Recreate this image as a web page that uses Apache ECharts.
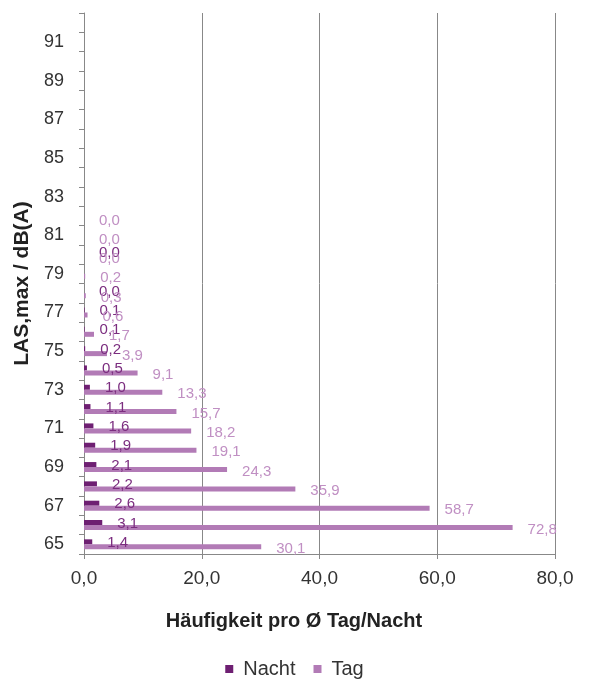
<!DOCTYPE html>
<html><head><meta charset="utf-8">
<script src="https://cdn.jsdelivr.net/npm/echarts@6/dist/echarts.min.js"></script>
<style>html,body{margin:0;padding:0;background:#fff}#c{width:589px;height:680px}</style>
</head><body><div id="c"></div>
<script>
const categories = ['65','66','67','68','69','70','71','72','73','74','75','76','77','78','79','80','81','82','83','84','85','86','87','88','89','90','91','92'];
const nacht = [1.4,3.1,2.6,2.2,2.1,1.9,1.6,1.1,1.0,0.5,0.2,0.1,0.1,0.0,null,0.0,null,null,null,null,null,null,null,null,null,null,null,null];
const tag = [30.1,72.8,58.7,35.9,24.3,19.1,18.2,15.7,13.3,9.1,3.9,1.7,0.6,0.3,0.2,0.0,0.0,0.0,null,null,null,null,null,null,null,null,null,null];
const xTicks = [0,20,40,60,80];

const fmt = v => v.toFixed(1).replace('.', ',');
const font = 'Liberation Sans, Arial, sans-serif';
const chart = echarts.init(document.getElementById('c'));
chart.setOption({
  animation:false,
  textStyle:{fontFamily:font},
  grid:{left:84,right:34,top:13,bottom:126,containLabel:false},
  title:{text:'Häufigkeit pro Ø Tag/Nacht',left:289,top:606,textAlign:'center',
    textStyle:{fontSize:20,fontWeight:'bold',color:'#222',fontFamily:font}},
  legend:{data:['Nacht','Tag'],top:654,left:'center',itemWidth:8,itemHeight:8,itemGap:18,icon:'rect',
    textStyle:{fontSize:20,color:'#333',fontFamily:font,padding:[0,0,0,5]}},
  xAxis:{type:'value',min:xTicks[0],max:xTicks[xTicks.length-1],interval:20,
    axisLine:{show:true,lineStyle:{color:'#888'}},
    axisTick:{show:true,length:5,lineStyle:{color:'#888'}},
    splitLine:{show:true,lineStyle:{color:'#888',width:1}},
    axisLabel:{formatter:v=>fmt(v),fontSize:19,color:'#333',margin:15}},
  yAxis:{type:'category',data:categories,name:'LAS,max / dB(A)',nameLocation:'middle',nameGap:42,
    nameTextStyle:{fontSize:21,fontWeight:'bold',color:'#222'},
    axisLine:{show:true,lineStyle:{color:'#888'}},
    axisTick:{show:true,length:5,interval:0,lineStyle:{color:'#888'}},
    axisLabel:{interval:1,fontSize:18,color:'#333',margin:20}},
  series:[
    {name:'Nacht',type:'bar',data:nacht,barWidth:5,barGap:'0%',itemStyle:{color:'#6e1f72'},
     label:{show:true,position:'right',distance:15,offset:[0,1],color:'#7b2d7f',fontSize:15,formatter:p=>fmt(p.value)}},
    {name:'Tag',type:'bar',data:tag,barWidth:5,barGap:'0%',itemStyle:{color:'#b27bb6'},
     label:{show:true,position:'right',distance:15,offset:[0,2],color:'#c08fc3',fontSize:15,formatter:p=>fmt(p.value)}}
  ]
});
</script></body></html>
